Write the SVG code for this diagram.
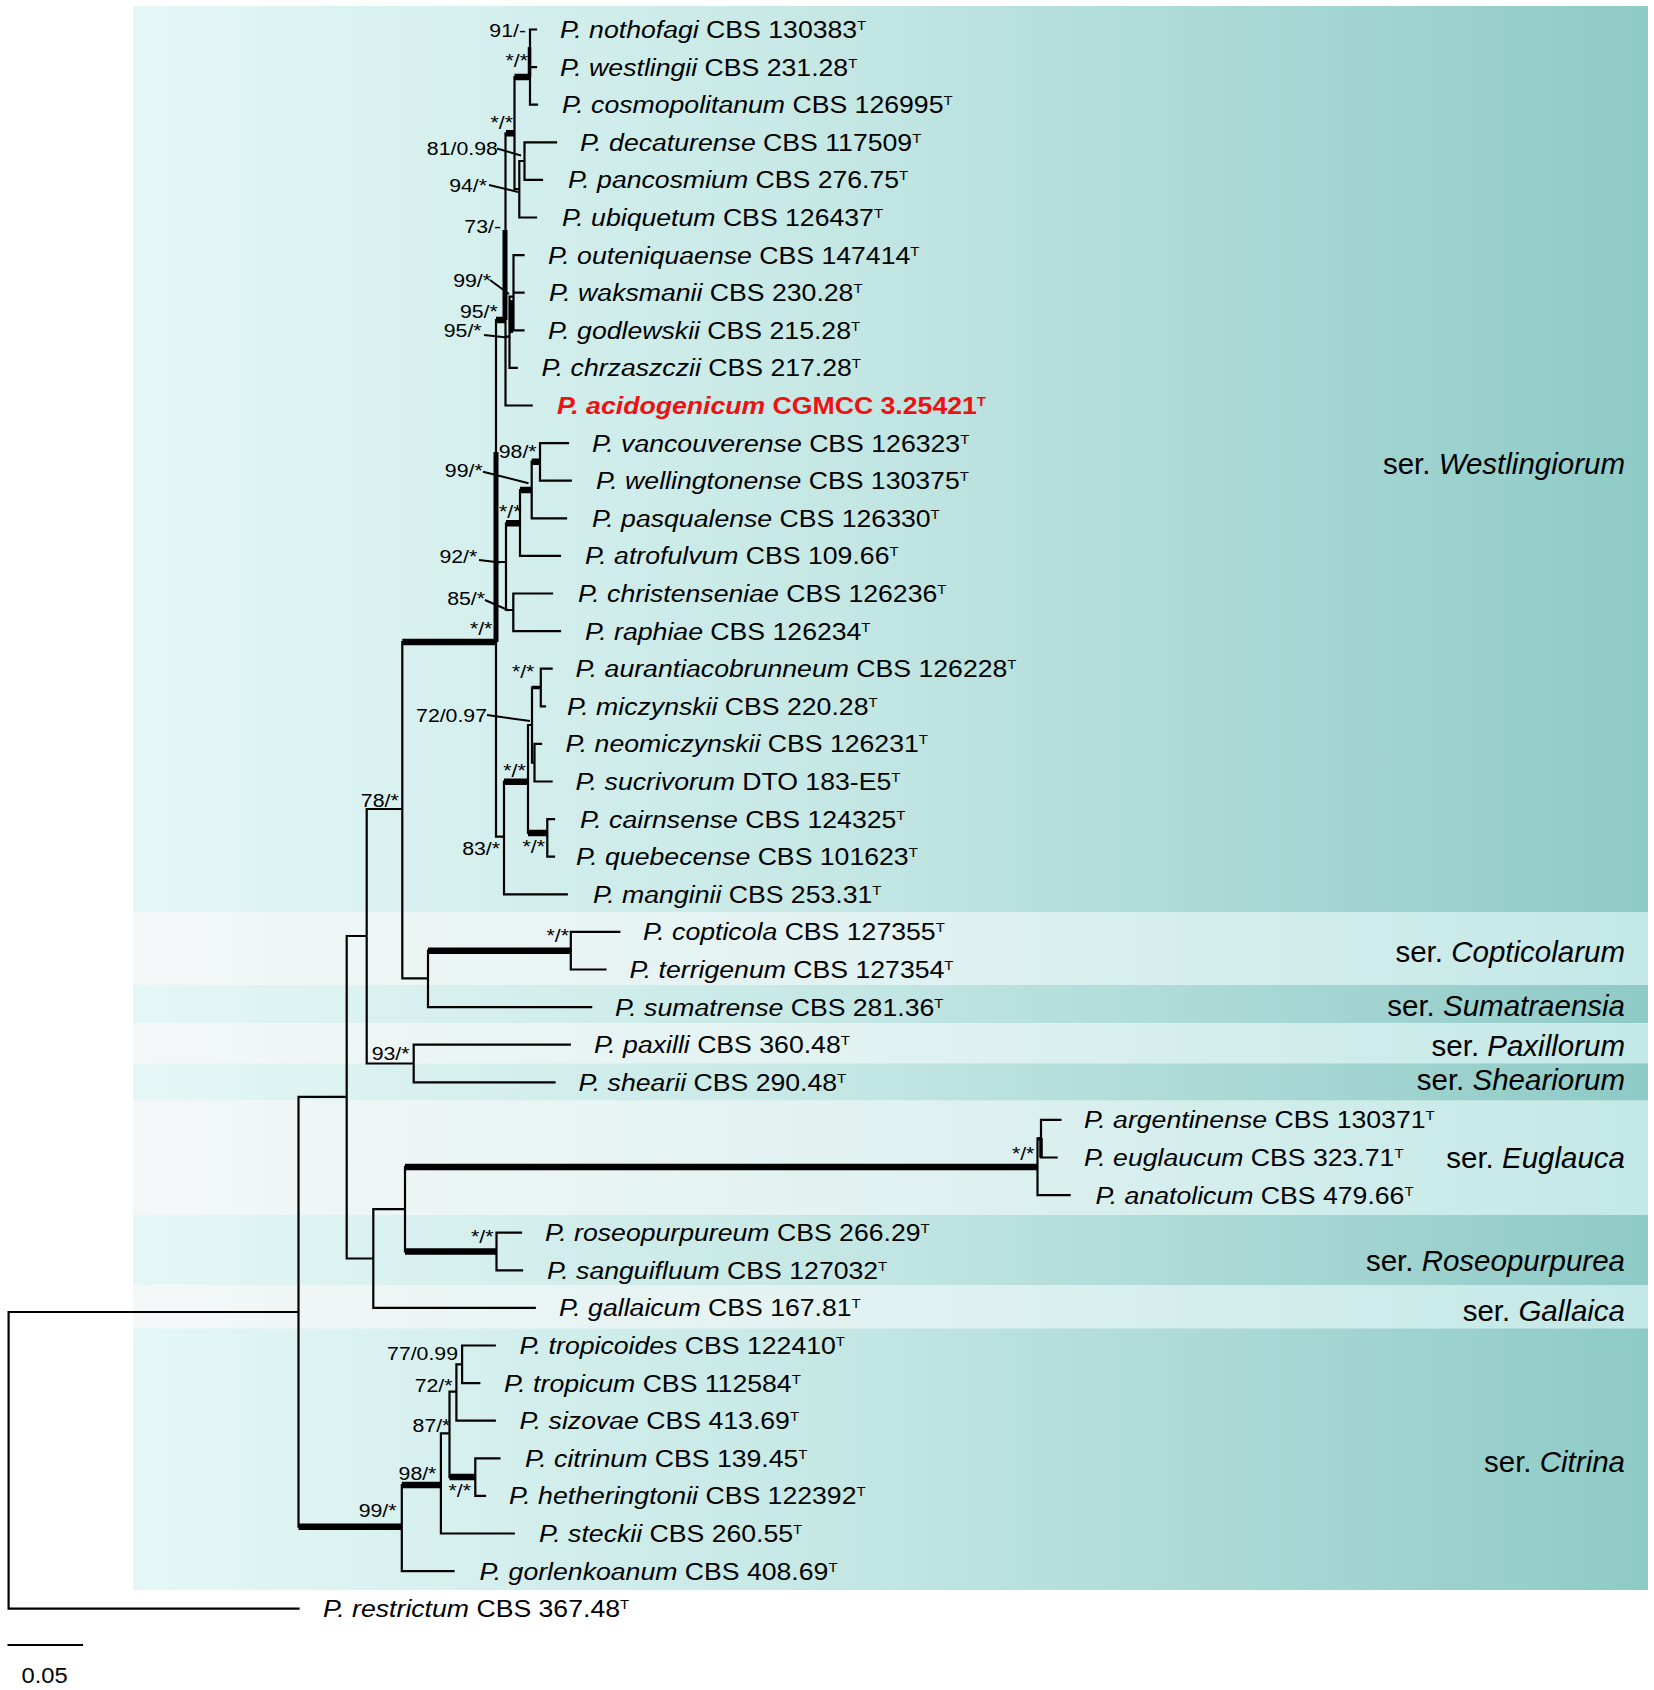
<svg xmlns="http://www.w3.org/2000/svg" width="1654" height="1690" viewBox="0 0 1654 1690">
<defs>
<linearGradient id="gDark" gradientUnits="userSpaceOnUse" x1="133" y1="0" x2="1648" y2="0">
<stop offset="0" stop-color="#e4f7f6"/><stop offset="0.45" stop-color="#c6e8e5"/><stop offset="1" stop-color="#8ecac6"/>
</linearGradient>
<linearGradient id="gLight" gradientUnits="userSpaceOnUse" x1="133" y1="0" x2="1648" y2="0">
<stop offset="0" stop-color="#f4f7f7"/><stop offset="0.5" stop-color="#e0f2f1"/><stop offset="1" stop-color="#c3e8e6"/>
</linearGradient>
<style>
text{font-family:"Liberation Sans",Arial,sans-serif;fill:#000}
.sp{font-size:24px}
.i{font-style:italic}
.sup{font-size:13.5px}
.red{fill:#ee1111;font-weight:bold}
.bs{font-size:18.5px;text-anchor:end}
.ser{font-size:29.5px;text-anchor:end}
.thin{fill:none;stroke:#000;stroke-width:2.2;stroke-linecap:square}
.thick{fill:none;stroke:#000;stroke-width:6.5;stroke-linecap:butt}
.lead{fill:none;stroke:#000;stroke-width:2}
.dark{fill:url(#gDark)}
.light{fill:url(#gLight)}
</style>
</defs>
<rect width="1654" height="1690" fill="#ffffff"/>
<g id="bands">
<rect class="dark" x="133" y="6" width="1515" height="906"/>
<rect class="light" x="133" y="912" width="1515" height="73"/>
<rect class="dark" x="133" y="985" width="1515" height="38.3"/>
<rect class="light" x="133" y="1023.3" width="1515" height="40"/>
<rect class="dark" x="133" y="1063.3" width="1515" height="37.4"/>
<rect class="light" x="133" y="1100.7" width="1515" height="114.3"/>
<rect class="dark" x="133" y="1215" width="1515" height="70"/>
<rect class="light" x="133" y="1285" width="1515" height="43.3"/>
<rect class="dark" x="133" y="1328.3" width="1515" height="261.7"/>
</g>
<g id="series">
<text class="ser" x="1625" y="473.5">ser. <tspan class="i">Westlingiorum</tspan></text>
<text class="ser" x="1625" y="961.5">ser. <tspan class="i">Copticolarum</tspan></text>
<text class="ser" x="1625" y="1015.5">ser. <tspan class="i">Sumatraensia</tspan></text>
<text class="ser" x="1625" y="1055.5">ser. <tspan class="i">Paxillorum</tspan></text>
<text class="ser" x="1625" y="1089.5">ser. <tspan class="i">Sheariorum</tspan></text>
<text class="ser" x="1625" y="1168">ser. <tspan class="i">Euglauca</tspan></text>
<text class="ser" x="1625" y="1270.5">ser. <tspan class="i">Roseopurpurea</tspan></text>
<text class="ser" x="1625" y="1320.5">ser. <tspan class="i">Gallaica</tspan></text>
<text class="ser" x="1625" y="1472">ser. <tspan class="i">Citrina</tspan></text>
</g>
<g id="connectors">
<path class="thin" d="M530 29.5V104.7M530 29.5H536M530 67.1H536M530 104.7H537
M514.5 77V189M514.5 189H519.3M519.3 161V217.5M519.3 161H524.5M524.5 142.3V179.9M524.5 142.3H556M524.5 179.9H542M519.3 217.5H536
M505.5 133.3V405.5M513.5 255.1V330.3M513.5 255.1H523.5M513.5 292.7H523.5M513.5 330.3H523.5
M509.5 296.7V367.9M509.5 296.7H513.5M509.5 367.9H516.7M505.5 336.7H509.5M505.5 405.5H531.7
M496 320V836.7M496 562H506M506 523.3V610M520 490V555.9M520 555.9H560M531.7 461.7V518.3M531.7 518.3H566
M540 443.1V480.7M540 443.1H568M540 480.7H570.8M506 610H513.3M513.3 593.5V631.1M513.3 593.5H552M513.3 631.1H560
M496 836.7H504M504 781.7V894.3M504 894.3H566.8M528 725V833M528 725H532M532 687.5V762.7
M540.8 668.7V706.3M540.8 668.7H551.6M540.8 706.3H545M532 762.7H534.5M534.5 743.9V781.5M534.5 743.9H541M534.5 781.5H551.6
M547.3 819.1V856.7M547.3 819.1H554M547.3 856.7H554
M402.3 642V978.3M402.3 978.3H428M428 950.7V1007.1M428 1007.1H591.2M570.8 931.9V969.5M570.8 931.9H619.3M570.8 969.5H605.5
M366.7 809V1063.5M366.7 809H402.3M366.7 1063.5H413.7M413.7 1044.7V1082.3M413.7 1044.7H569.8M413.7 1082.3H554.5
M346.7 936V1258.5M346.7 936H366.7M298.5 1096.8V1526.7M298.5 1096.8H346.7M346.7 1258.5H373.3
M373.3 1209.2V1307.9M373.3 1307.9H534.8M373.3 1209.2H405M405 1166.9V1251.5
M1037.5 1138.7V1195.1M1037.5 1195.1H1069.6M1041 1119.9V1157.5M1041 1119.9H1060.4M1041 1157.5H1056.6
M496.5 1232.7V1270.3M496.5 1232.7H521M496.5 1270.3H522
M8.6 1312V1608.7M8.6 1312H298.5M8.6 1608.7H298.5
M401.8 1485V1571.1M401.8 1571.1H453.5M440.9 1433.3V1533.5M440.9 1533.5H513.8M440.9 1433.3H449.5
M449.5 1391.7V1477.1M475.3 1458.3V1495.9M475.3 1458.3H499.4M475.3 1495.9H485
M449.5 1391.7H456.4M456.4 1364.3V1420.7M456.4 1420.7H494.8M456.4 1364.3H462.1M462.1 1345.5V1383.1M462.1 1345.5H494.8M462.1 1383.1H479.3
M8.6 1645H82"/>
<path class="thick" d="M514.5 77H530M506 133.3H514.5M496 320H505.5M402.3 642H496M506 523.3H520M520 490H531.7M531.7 461.7H540
M504 781.7H528M528 833H547.3M428 950.7H570.8M405 1166.9H1037.5M405 1251.5H496.5M298.5 1526.7H401.8M401.8 1485H440.9M449.5 1477.1H475.3"/>
<path class="thick" style="stroke-width:3.5" d="M529.5 47V77M511.3 300V333M532 687.5H540.8M1037.5 1138.7H1041M1041 1138V1157.5"/>
<path class="thick" style="stroke-width:5" d="M505 230V320M496 452V642"/>
<path class="lead" d="M497 148.5L521 155.5M489 185L518 192M490 280L509 294M484 335L507 337.5M483 471.7L528.5 483.3M479 560L500 562.5M485 600L509 610.5M487 715L530 721"/>
</g>
<g id="supports">
<text class="bs" transform="translate(526 37) scale(1.15 1)">91/-</text>
<text class="bs" transform="translate(528 67) scale(1.15 1)">*/*</text>
<text class="bs" transform="translate(513 128.5) scale(1.15 1)">*/*</text>
<text class="bs" transform="translate(497.8 155) scale(1.15 1)">81/0.98</text>
<text class="bs" transform="translate(487 191.7) scale(1.15 1)">94/*</text>
<text class="bs" transform="translate(501 233) scale(1.15 1)">73/-</text>
<text class="bs" transform="translate(491 286.7) scale(1.15 1)">99/*</text>
<text class="bs" transform="translate(497.8 318.3) scale(1.15 1)">95/*</text>
<text class="bs" transform="translate(481.6 337.3) scale(1.15 1)">95/*</text>
<text class="bs" transform="translate(536.6 458.3) scale(1.15 1)">98/*</text>
<text class="bs" transform="translate(482.7 476.7) scale(1.15 1)">99/*</text>
<text class="bs" transform="translate(521.5 518.3) scale(1.15 1)">*/*</text>
<text class="bs" transform="translate(477.3 563.3) scale(1.15 1)">92/*</text>
<text class="bs" transform="translate(485 605) scale(1.15 1)">85/*</text>
<text class="bs" transform="translate(492.4 635) scale(1.15 1)">*/*</text>
<text class="bs" transform="translate(534.4 678.3) scale(1.15 1)">*/*</text>
<text class="bs" transform="translate(487 721.7) scale(1.15 1)">72/0.97</text>
<text class="bs" transform="translate(525.8 776.7) scale(1.15 1)">*/*</text>
<text class="bs" transform="translate(398.7 806.7) scale(1.15 1)">78/*</text>
<text class="bs" transform="translate(545 853.3) scale(1.15 1)">*/*</text>
<text class="bs" transform="translate(500 855) scale(1.15 1)">83/*</text>
<text class="bs" transform="translate(569 941.7) scale(1.15 1)">*/*</text>
<text class="bs" transform="translate(409.5 1060) scale(1.15 1)">93/*</text>
<text class="bs" transform="translate(1034.4 1160) scale(1.15 1)">*/*</text>
<text class="bs" transform="translate(493.5 1243.3) scale(1.15 1)">*/*</text>
<text class="bs" transform="translate(458 1360) scale(1.15 1)">77/0.99</text>
<text class="bs" transform="translate(452.5 1391.7) scale(1.15 1)">72/*</text>
<text class="bs" transform="translate(450.4 1431.7) scale(1.15 1)">87/*</text>
<text class="bs" transform="translate(436.4 1480) scale(1.15 1)">98/*</text>
<text class="bs" transform="translate(471 1496.7) scale(1.15 1)">*/*</text>
<text class="bs" transform="translate(396.5 1516.7) scale(1.15 1)">99/*</text>
</g>
<g id="scale"><text transform="translate(21.5 1683) scale(1.08 1)" style="font-size:22px">0.05</text></g>
<g id="t0"><text class="sp" transform="translate(560 38) scale(1.11 1)"><tspan class="i">P. nothofagi</tspan> CBS 130383<tspan class="sup" dy="-8">T</tspan></text></g>
<g id="t1"><text class="sp" transform="translate(560 75.6) scale(1.11 1)"><tspan class="i">P. westlingii</tspan> CBS 231.28<tspan class="sup" dy="-8">T</tspan></text></g>
<g id="t2"><text class="sp" transform="translate(562 113.2) scale(1.11 1)"><tspan class="i">P. cosmopolitanum</tspan> CBS 126995<tspan class="sup" dy="-8">T</tspan></text></g>
<g id="t3"><text class="sp" transform="translate(580 150.8) scale(1.11 1)"><tspan class="i">P. decaturense</tspan> CBS 117509<tspan class="sup" dy="-8">T</tspan></text></g>
<g id="t4"><text class="sp" transform="translate(568 188.4) scale(1.11 1)"><tspan class="i">P. pancosmium</tspan> CBS 276.75<tspan class="sup" dy="-8">T</tspan></text></g>
<g id="t5"><text class="sp" transform="translate(562 226) scale(1.11 1)"><tspan class="i">P. ubiquetum</tspan> CBS 126437<tspan class="sup" dy="-8">T</tspan></text></g>
<g id="t6"><text class="sp" transform="translate(548 263.6) scale(1.11 1)"><tspan class="i">P. outeniquaense</tspan> CBS 147414<tspan class="sup" dy="-8">T</tspan></text></g>
<g id="t7"><text class="sp" transform="translate(549 301.2) scale(1.11 1)"><tspan class="i">P. waksmanii</tspan> CBS 230.28<tspan class="sup" dy="-8">T</tspan></text></g>
<g id="t8"><text class="sp" transform="translate(548 338.8) scale(1.11 1)"><tspan class="i">P. godlewskii</tspan> CBS 215.28<tspan class="sup" dy="-8">T</tspan></text></g>
<g id="t9"><text class="sp" transform="translate(541.5 376.4) scale(1.11 1)"><tspan class="i">P. chrzaszczii</tspan> CBS 217.28<tspan class="sup" dy="-8">T</tspan></text></g>
<g id="t10"><text class="sp red" transform="translate(557 414) scale(1.11 1)"><tspan class="i">P. acidogenicum</tspan> CGMCC 3.25421<tspan class="sup" dy="-8">T</tspan></text></g>
<g id="t11"><text class="sp" transform="translate(592 451.6) scale(1.11 1)"><tspan class="i">P. vancouverense</tspan> CBS 126323<tspan class="sup" dy="-8">T</tspan></text></g>
<g id="t12"><text class="sp" transform="translate(596 489.2) scale(1.11 1)"><tspan class="i">P. wellingtonense</tspan> CBS 130375<tspan class="sup" dy="-8">T</tspan></text></g>
<g id="t13"><text class="sp" transform="translate(592 526.8) scale(1.11 1)"><tspan class="i">P. pasqualense</tspan> CBS 126330<tspan class="sup" dy="-8">T</tspan></text></g>
<g id="t14"><text class="sp" transform="translate(585 564.4) scale(1.11 1)"><tspan class="i">P. atrofulvum</tspan> CBS 109.66<tspan class="sup" dy="-8">T</tspan></text></g>
<g id="t15"><text class="sp" transform="translate(578 602) scale(1.11 1)"><tspan class="i">P. christenseniae</tspan> CBS 126236<tspan class="sup" dy="-8">T</tspan></text></g>
<g id="t16"><text class="sp" transform="translate(585 639.6) scale(1.11 1)"><tspan class="i">P. raphiae</tspan> CBS 126234<tspan class="sup" dy="-8">T</tspan></text></g>
<g id="t17"><text class="sp" transform="translate(575.5 677.2) scale(1.11 1)"><tspan class="i">P. aurantiacobrunneum</tspan> CBS 126228<tspan class="sup" dy="-8">T</tspan></text></g>
<g id="t18"><text class="sp" transform="translate(567 714.8) scale(1.11 1)"><tspan class="i">P. miczynskii</tspan> CBS 220.28<tspan class="sup" dy="-8">T</tspan></text></g>
<g id="t19"><text class="sp" transform="translate(565.5 752.4) scale(1.11 1)"><tspan class="i">P. neomiczynskii</tspan> CBS 126231<tspan class="sup" dy="-8">T</tspan></text></g>
<g id="t20"><text class="sp" transform="translate(575.5 790) scale(1.11 1)"><tspan class="i">P. sucrivorum</tspan> DTO 183-E5<tspan class="sup" dy="-8">T</tspan></text></g>
<g id="t21"><text class="sp" transform="translate(580 827.6) scale(1.11 1)"><tspan class="i">P. cairnsense</tspan> CBS 124325<tspan class="sup" dy="-8">T</tspan></text></g>
<g id="t22"><text class="sp" transform="translate(576 865.2) scale(1.11 1)"><tspan class="i">P. quebecense</tspan> CBS 101623<tspan class="sup" dy="-8">T</tspan></text></g>
<g id="t23"><text class="sp" transform="translate(593 902.8) scale(1.11 1)"><tspan class="i">P. manginii</tspan> CBS 253.31<tspan class="sup" dy="-8">T</tspan></text></g>
<g id="t24"><text class="sp" transform="translate(643 940.4) scale(1.11 1)"><tspan class="i">P. copticola</tspan> CBS 127355<tspan class="sup" dy="-8">T</tspan></text></g>
<g id="t25"><text class="sp" transform="translate(629.5 978) scale(1.11 1)"><tspan class="i">P. terrigenum</tspan> CBS 127354<tspan class="sup" dy="-8">T</tspan></text></g>
<g id="t26"><text class="sp" transform="translate(615 1015.6) scale(1.11 1)"><tspan class="i">P. sumatrense</tspan> CBS 281.36<tspan class="sup" dy="-8">T</tspan></text></g>
<g id="t27"><text class="sp" transform="translate(594 1053.2) scale(1.11 1)"><tspan class="i">P. paxilli</tspan> CBS 360.48<tspan class="sup" dy="-8">T</tspan></text></g>
<g id="t28"><text class="sp" transform="translate(578.5 1090.8) scale(1.11 1)"><tspan class="i">P. shearii</tspan> CBS 290.48<tspan class="sup" dy="-8">T</tspan></text></g>
<g id="t29"><text class="sp" transform="translate(1084 1128.4) scale(1.11 1)"><tspan class="i">P. argentinense</tspan> CBS 130371<tspan class="sup" dy="-8">T</tspan></text></g>
<g id="t30"><text class="sp" transform="translate(1084 1166) scale(1.11 1)"><tspan class="i">P. euglaucum</tspan> CBS 323.71<tspan class="sup" dy="-8">T</tspan></text></g>
<g id="t31"><text class="sp" transform="translate(1095.5 1203.6) scale(1.11 1)"><tspan class="i">P. anatolicum</tspan> CBS 479.66<tspan class="sup" dy="-8">T</tspan></text></g>
<g id="t32"><text class="sp" transform="translate(545 1241.2) scale(1.11 1)"><tspan class="i">P. roseopurpureum</tspan> CBS 266.29<tspan class="sup" dy="-8">T</tspan></text></g>
<g id="t33"><text class="sp" transform="translate(547 1278.8) scale(1.11 1)"><tspan class="i">P. sanguifluum</tspan> CBS 127032<tspan class="sup" dy="-8">T</tspan></text></g>
<g id="t34"><text class="sp" transform="translate(559 1316.4) scale(1.11 1)"><tspan class="i">P. gallaicum</tspan> CBS 167.81<tspan class="sup" dy="-8">T</tspan></text></g>
<g id="t35"><text class="sp" transform="translate(519.5 1354) scale(1.11 1)"><tspan class="i">P. tropicoides</tspan> CBS 122410<tspan class="sup" dy="-8">T</tspan></text></g>
<g id="t36"><text class="sp" transform="translate(504 1391.6) scale(1.11 1)"><tspan class="i">P. tropicum</tspan> CBS 112584<tspan class="sup" dy="-8">T</tspan></text></g>
<g id="t37"><text class="sp" transform="translate(519.5 1429.2) scale(1.11 1)"><tspan class="i">P. sizovae</tspan> CBS 413.69<tspan class="sup" dy="-8">T</tspan></text></g>
<g id="t38"><text class="sp" transform="translate(525 1466.8) scale(1.11 1)"><tspan class="i">P. citrinum</tspan> CBS 139.45<tspan class="sup" dy="-8">T</tspan></text></g>
<g id="t39"><text class="sp" transform="translate(509 1504.4) scale(1.11 1)"><tspan class="i">P. hetheringtonii</tspan> CBS 122392<tspan class="sup" dy="-8">T</tspan></text></g>
<g id="t40"><text class="sp" transform="translate(539 1542) scale(1.11 1)"><tspan class="i">P. steckii</tspan> CBS 260.55<tspan class="sup" dy="-8">T</tspan></text></g>
<g id="t41"><text class="sp" transform="translate(479.5 1579.6) scale(1.11 1)"><tspan class="i">P. gorlenkoanum</tspan> CBS 408.69<tspan class="sup" dy="-8">T</tspan></text></g>
<g id="t42"><text class="sp" transform="translate(323 1617.2) scale(1.11 1)"><tspan class="i">P. restrictum</tspan> CBS 367.48<tspan class="sup" dy="-8">T</tspan></text></g>
</svg>
